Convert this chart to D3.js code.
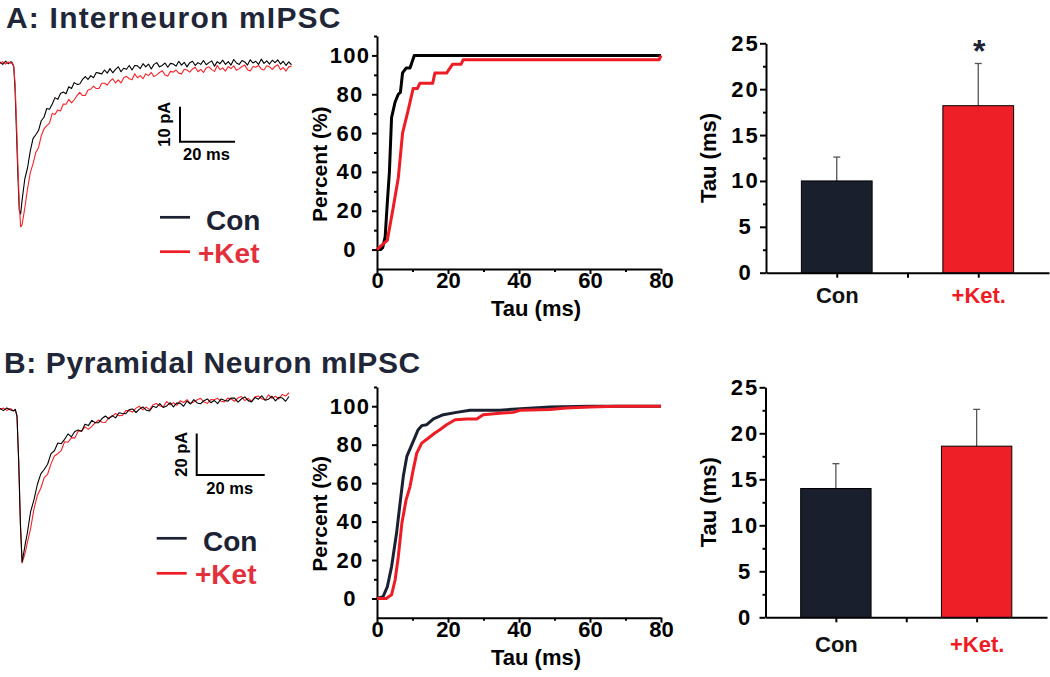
<!DOCTYPE html>
<html><head><meta charset="utf-8">
<script src="https://cdn.jsdelivr.net/npm/d3@7"></script>
<style>
body{margin:0;background:#fff;}
svg{display:block;font-family:"Liberation Sans",Arial,Helvetica,sans-serif;font-weight:bold;}
</style></head><body>
<svg id="fig" width="1050" height="677"></svg>
<script>
// ---------------- DATA ----------------
const panelTitles = ["A: Interneuron mIPSC", "B: Pyramidal Neuron mIPSC"];
const legendLabels = ["Con", "+Ket"];
const barCategories = ["Con", "+Ket."];
const scaleBarA = {ms: 20, pA: 10};
const scaleBarB = {ms: 20, pA: 20};

// sample times (ms) of the averaged traces
const traceTimeA = [0,1,2,3,4,4.5,5,5.5,6,6.5,7,7.5,8].concat(d3.range(9, 107));
const traceConA = [0.3,-0.4,0.5,-0.2,0.4,-0.2,-1,-8,-20,-32,-42,-43.2,-39.4,
 -33.2,-30.0,-25.2,-21.6,-20.5,-19.3,-16.5,-15.5,-13.0,-13.2,
 -11.7,-9.9,-10.4,-8.7,-8.3,-8.8,-6.8,-7.3,-5.6,-6.1,
 -6.0,-4.7,-3.9,-4.7,-3.6,-4.2,-2.7,-2.9,-3.1,-2.0,
 -2.9,-1.6,-2.8,-1.8,-1.1,-2.5,-1.5,-1.8,-0.7,-2.0,
 -0.7,-0.8,-1.6,-0.2,-1.1,-0.3,-1.7,-0.4,0.1,-1.1,
 -0.7,0.0,-1.2,-0.1,-0.3,-0.9,0.5,-0.6,0.2,-1.1,
 0.1,0.5,-0.7,0.1,-0.4,0.7,-0.5,0.1,0.6,-0.9,
 0.4,-0.2,0.8,-0.4,0.4,-0.6,1.0,0.0,-0.4,0.7,
 0.3,-0.6,0.9,0.0,0.5,-0.4,1.1,-0.1,0.6,-0.3,
 0.8,0.1,0.9,-0.3,0.5,-0.7,0.3,-0.5];
const traceKetA = [-0.2,0.4,-0.3,0.3,-0.1,0.2,-1,-6,-17,-29,-40,-46.8,-46.3,
 -41.5,-36.0,-31.4,-28.8,-25.6,-24.2,-20.8,-18.8,-17.9,-17.2,
 -14.4,-14.7,-13.4,-13.7,-11.7,-11.8,-10.4,-11.4,-10.5,-9.3,
 -8.4,-9.3,-9.3,-7.7,-7.5,-6.6,-7.3,-7.3,-5.8,-5.8,
 -6.3,-5.2,-4.5,-5.7,-4.8,-5.7,-4.2,-3.8,-4.5,-4.8,
 -3.1,-4.2,-3.6,-4.5,-3.1,-3.6,-2.7,-3.9,-3.4,-2.7,
 -2.2,-3.4,-3.7,-2.4,-2.6,-2.0,-2.9,-3.1,-1.8,-2.0,
 -2.6,-1.7,-1.2,-2.5,-1.8,-2.7,-1.4,-1.1,-1.9,-2.4,
 -0.7,-1.9,-1.4,-2.3,-1.0,-1.6,-0.8,-2.1,-1.6,-1.0,
 -0.6,-1.9,-2.3,-1.0,-1.2,-0.7,-1.7,-2.0,-0.8,-1.1,
 -1.8,-1.0,-0.5,-1.9,-1.3,-2.3,-1.1,-0.9];

const traceTimeB = [0,1,2,3,4,4.5,5,5.5,6,6.5,7,7.5,8].concat(d3.range(9, 86));
const traceConB = [0.8,-0.3,1.0,0.1,-0.5,0.3,-3,-25,-55,-73,-68.5,-63.8,-59.5,
 -48.9,-43.1,-35.7,-30.7,-28.6,-26.1,-21.0,-19.6,-15.9,-16.2,
 -14.1,-11.5,-12.9,-10.3,-9.6,-10.2,-6.8,-7.5,-5.0,-6.1,
 -6.1,-4.1,-2.9,-4.3,-2.7,-3.8,-1.3,-1.7,-1.8,0.2,
 0.5,-1.2,0.4,1.5,-0.1,-0.5,1.8,1.2,3.1,1.2,
 1.9,3.5,1.5,3.4,3.3,1.8,4.3,2.9,5.0,3.4,
 3.0,4.5,5.3,3.5,4.6,3.1,5.3,4.7,4.2,5.8,
 5.7,3.8,5.3,6.3,4.5,3.9,6.0,5.2,6.8,4.7,
 5.2,6.6,4.4,6.1,5.8,4.2,6.5];
const traceKetB = [0.3,0.9,-0.2,0.7,-0.3,0.2,-3,-24,-54,-73.5,-71,-68,-64,
 -57.0,-47.5,-41.0,-37.6,-32.5,-30.9,-25.9,-22.1,-21.0,-19.5,
 -15.3,-15.5,-13.3,-13.5,-10.2,-10.2,-8.1,-9.3,-7.9,-6.2,
 -4.8,-5.9,-6.0,-3.6,-3.1,-1.7,-2.7,-2.6,-0.3,-0.3,
 -1.0,0.9,1.8,0.1,1.4,0.2,2.5,3.1,2.0,1.5,
 4.1,2.5,3.5,2.2,4.4,3.6,5.0,3.1,3.9,4.9,
 5.6,3.8,3.2,5.0,4.9,5.6,4.2,3.9,5.7,5.3,
 4.2,5.8,6.5,4.5,5.6,4.2,6.3,6.7,5.4,4.8,
 7.3,5.6,6.6,5.3,7.5,6.7,8.3];

// cumulative distributions of decay tau
const cdfTauConA = [0,1,1.6,2.3,2.9,3.5,4.1,5.1,6.0,6.6,7.2,8.2,9.3,10.5,80];
const cdfPctConA = [0,0,1,6.5,24,40,68,76,80,81,91,93.5,93.5,100,100];
const cdfTauKetA = [0,1.2,2.9,4.6,6.0,7.2,8.8,10.2,11.4,12.1,15.7,16.3,19.6,21.3,23.7,24.3,79.5,80];
const cdfPctKetA = [0,2,4.7,22,37,60,72,83,83,85.7,85.7,90.9,90.9,95.5,95.5,97.8,97.8,100];
const cdfTauConB = [0,1.7,2.9,4.1,5.5,6.5,7.4,8.4,10.2,11.6,12.6,14.0,15.9,18.7,22.4,26.2,34.6,39.4,48.7,60,80];
const cdfPctConB = [0,0.9,6,16.5,33.9,49.6,63.4,73.9,81.7,87.8,89.9,90.4,93.4,95.6,96.8,97.9,97.9,98.6,99.6,100,100];
const cdfTauKetB = [0,2.6,4.1,5.1,6.0,7.0,8.2,9.3,10.2,11.2,12.6,14.5,16.3,17.7,19.6,22.0,25.3,28.1,29.9,34.6,38.4,40.3,48.7,53.4,60,67.5,80];
const cdfPctKetB = [0,0,1.9,9.6,21.7,39.1,51.3,58.2,66.9,75.6,80.8,83.5,86.1,87.8,90.4,93.0,93.4,93.4,95.6,96.4,96.8,97.9,98.3,99.1,99.6,100,100];
const cdfXTicks = [0,20,40,60,80];
const cdfYTicks = [0,20,40,60,80,100];

// mean tau (ms) and SEM
const barMeanA = [10.0, 18.2];
const barSemA = [2.6, 4.6];
const barMeanB = [14.0, 18.6];
const barSemB = [2.7, 4.0];
const barYTicks = [0,5,10,15,20,25];
const sigMarkA = ["", "*"];

// ---------------- STYLE ----------------
const NAVY = "#1c2234", RED = "#ee1c25", KETTXT = "#e2303d";
const svg = d3.select("#fig");

function styleAxis(g, fs) {
  g.attr("font-family", null).attr("font-size", fs).attr("font-weight", "bold");
  g.select(".domain").attr("stroke", "#000").attr("stroke-width", 2);
  g.selectAll(".tick line").attr("stroke", "#000").attr("stroke-width", 2);
  g.selectAll(".tick text").attr("fill", "#000");
}

// ---------------- TITLES ----------------
svg.append("text").attr("x", 6).attr("y", 27.5).attr("font-size", 30).attr("letter-spacing", 1.2)
  .attr("fill", "#1f2638").text(panelTitles[0]);
svg.append("text").attr("x", 4).attr("y", 373).attr("font-size", 30).attr("letter-spacing", 0.6)
  .attr("fill", "#1f2638").text(panelTitles[1]);

// ---------------- TRACES ----------------
function drawTraces(o) {
  const g = svg.append("g");
  const x = d3.scaleLinear().domain(o.xDom).range(o.xRange);
  const y = d3.scaleLinear().domain([0, -50]).range([o.base, o.base + 50 * o.pApx]);
  const line = d3.line().x((d, i) => x(o.time[i])).y(d => y(d));
  const series = [{v: o.con, c: "#000"}, {v: o.ket, c: "#f4222a"}];
  const ordered = o.redFirst ? [series[1], series[0]] : series;
  ordered.forEach(s => g.append("path").datum(s.v).attr("d", line)
    .attr("fill", "none").attr("stroke", s.c).attr("stroke-width", 1.1).attr("stroke-linejoin", "round"));
  const sx = o.bar[0], sy = o.bar[1];
  const vlen = y(-o.sb.pA) - y(0), hlen = x(o.sb.ms) - x(0);
  g.append("path").attr("d", `M${sx},${sy - vlen}V${sy}H${sx + hlen}`)
    .attr("fill", "none").attr("stroke", "#000").attr("stroke-width", 2);
  g.append("text").attr("transform", `translate(${sx - 10},${sy - vlen / 2}) rotate(-90)`)
    .attr("text-anchor", "middle").attr("font-size", 16.5).text(o.sb.pA + " pA");
  g.append("text").attr("x", sx + hlen / 2 - 1).attr("y", sy + 18.5)
    .attr("text-anchor", "middle").attr("font-size", 16.5).text(o.sb.ms + " ms");
  const L = o.legend;
  g.append("line").attr("x1", L.x).attr("x2", L.x + 30).attr("y1", L.y1).attr("y2", L.y1).attr("stroke", NAVY).attr("stroke-width", 2.7);
  g.append("line").attr("x1", L.x).attr("x2", L.x + 30).attr("y1", L.y2).attr("y2", L.y2).attr("stroke", RED).attr("stroke-width", 2.7);
  g.append("text").attr("x", L.tx1).attr("y", L.y1 + 13).attr("font-size", 28).attr("fill", NAVY).text(legendLabels[0]);
  g.append("text").attr("x", L.tx2).attr("y", L.y2 + 11).attr("font-size", 28).attr("fill", KETTXT).text(legendLabels[1]);
}

drawTraces({time: traceTimeA, con: traceConA, ket: traceKetA, xDom: [0, 106], xRange: [0, 291.5],
  base: 63, pApx: 3.5, redFirst: false, sb: scaleBarA, bar: [180, 141.7],
  legend: {x: 160, y1: 217.3, y2: 251.7, tx1: 206, tx2: 198}});
drawTraces({time: traceTimeB, con: traceConB, ket: traceKetB, xDom: [0, 85], xRange: [0, 289],
  base: 410, pApx: 2.08, redFirst: true, sb: scaleBarB, bar: [196.7, 475],
  legend: {x: 156.7, y1: 538.3, y2: 573.3, tx1: 203, tx2: 195}});

// ---------------- CDF ----------------
function drawCdf(o) {
  const g = svg.append("g");
  const x = d3.scaleLinear().domain([0, 80]).range([377, 661]);
  const y = d3.scaleLinear().domain([-10, 110]).range(o.yRange);
  const yBottom = o.yRange[0];
  g.append("g").attr("transform", `translate(377,0)`)
    .call(d3.axisLeft(y).tickValues([10,30,50,70,90,110]).tickSize(3).tickFormat("").tickSizeOuter(0))
    .call(s => { styleAxis(s, 22); s.select(".domain").remove(); });
  g.append("g").attr("transform", `translate(0,${yBottom})`)
    .call(d3.axisBottom(x).tickValues([10,30,50,70]).tickSize(3).tickFormat("").tickSizeOuter(0))
    .call(s => { styleAxis(s, 22); s.select(".domain").remove(); });
  const ya = g.append("g").attr("transform", `translate(377,0)`)
    .call(d3.axisLeft(y).tickValues(cdfYTicks).tickSize(5).tickSizeOuter(0))
    .call(s => styleAxis(s, 22));
  ya.selectAll(".tick text").attr("text-anchor", "middle").attr("x", -27).attr("letter-spacing", 1.2);
  const xa = g.append("g").attr("transform", `translate(0,${yBottom})`)
    .call(d3.axisBottom(x).tickValues(cdfXTicks).tickSize(5).tickSizeOuter(0))
    .call(s => styleAxis(s, 22));
  xa.selectAll(".tick text").attr("dy", null).attr("y", 19);
  g.append("text").attr("transform", `translate(327,${y(44)}) rotate(-90)`).attr("text-anchor", "middle")
    .attr("font-size", 21).attr("fill", "#000").text("Percent (%)");
  g.append("text").attr("x", 536).attr("y", yBottom + 47).attr("text-anchor", "middle")
    .attr("font-size", 22).attr("fill", "#000").text("Tau (ms)");
  const line = d3.line().x(d => x(d[0])).y(d => y(d[1]));
  g.append("path").datum(d3.zip(o.conT, o.conP)).attr("d", line).attr("fill", "none")
    .attr("stroke", o.conColor).attr("stroke-width", 3).attr("stroke-linejoin", "round");
  g.append("path").datum(d3.zip(o.ketT, o.ketP)).attr("d", line).attr("fill", "none")
    .attr("stroke", RED).attr("stroke-width", 3).attr("stroke-linejoin", "round");
}
drawCdf({yRange: [269, 36], conT: cdfTauConA, conP: cdfPctConA, ketT: cdfTauKetA, ketP: cdfPctKetA, conColor: "#000"});
drawCdf({yRange: [617.7, 387], conT: cdfTauConB, conP: cdfPctConB, ketT: cdfTauKetB, ketP: cdfPctKetB, conColor: "#1b2031"});

// ---------------- BARS ----------------
function drawBars(o) {
  const g = svg.append("g");
  const x = d3.scaleLinear().domain([0, 4]).range(o.xRange);
  const y = d3.scaleLinear().domain([0, 25]).range(o.yRange);
  const ax = o.xRange[0], base = o.yRange[0];
  const pos = [1, 3], fills = ["#1a1f2e", "#ee1f26"];
  g.append("g").attr("transform", `translate(${ax},0)`)
    .call(d3.axisLeft(y).tickValues([2.5,7.5,12.5,17.5,22.5]).tickSize(3).tickFormat("").tickSizeOuter(0))
    .call(s => { styleAxis(s, 22); s.select(".domain").remove(); });
  const ya = g.append("g").attr("transform", `translate(${ax},0)`)
    .call(d3.axisLeft(y).tickValues(barYTicks).tickSize(6).tickSizeOuter(0))
    .call(s => styleAxis(s, 22));
  ya.selectAll(".tick text").attr("text-anchor", "middle").attr("x", -20.5).attr("letter-spacing", 2);
  const xa = g.append("g").attr("transform", `translate(0,${base})`)
    .call(d3.axisBottom(x).tickValues([1, 2, 3]).tickSize(5).tickSizeOuter(0)
      .tickFormat(d => d === 1 ? barCategories[0] : d === 3 ? barCategories[1] : ""))
    .call(s => styleAxis(s, 22));
  xa.selectAll(".tick text").attr("dy", null).attr("y", o.labelDy)
    .attr("fill", d => d === 3 ? RED : "#111");
  pos.forEach((p, i) => {
    const top = y(o.mean[i] + o.sem[i]);
    g.append("line").attr("x1", x(p)).attr("x2", x(p)).attr("y1", y(o.mean[i])).attr("y2", top)
      .attr("stroke", "#555").attr("stroke-width", 1.3);
    g.append("line").attr("x1", x(p) - 3.5).attr("x2", x(p) + 3.5).attr("y1", top).attr("y2", top)
      .attr("stroke", "#555").attr("stroke-width", 1.3);
  });
  g.selectAll("rect.bar").data(o.mean).join("rect").attr("class", "bar")
    .attr("x", (d, i) => x(pos[i] - 0.5)).attr("width", x(1) - x(0))
    .attr("y", d => y(d)).attr("height", d => base - y(d))
    .attr("fill", (d, i) => fills[i]).attr("stroke", "#000").attr("stroke-width", 1);
  g.append("text").attr("transform", `translate(716,${(o.yRange[0] + o.yRange[1]) / 2}) rotate(-90)`)
    .attr("text-anchor", "middle").attr("font-size", 22).attr("fill", "#000").text("Tau (ms)");
  if (o.sig) o.sig.forEach((s, i) => {
    if (!s) return;
    g.append("text").attr("x", x(pos[i]) + 1).attr("y", y(o.mean[i] + o.sem[i]) - 1)
      .attr("text-anchor", "middle").attr("font-size", 32).attr("fill", NAVY).text(s);
  });
}
drawBars({xRange: [766, 1049], yRange: [272.7, 43.3], mean: barMeanA, sem: barSemA, labelDy: 30.5, sig: sigMarkA});
drawBars({xRange: [765.5, 1047], yRange: [617.3, 387.3], mean: barMeanB, sem: barSemB, labelDy: 34.5});
</script>
</body></html>
